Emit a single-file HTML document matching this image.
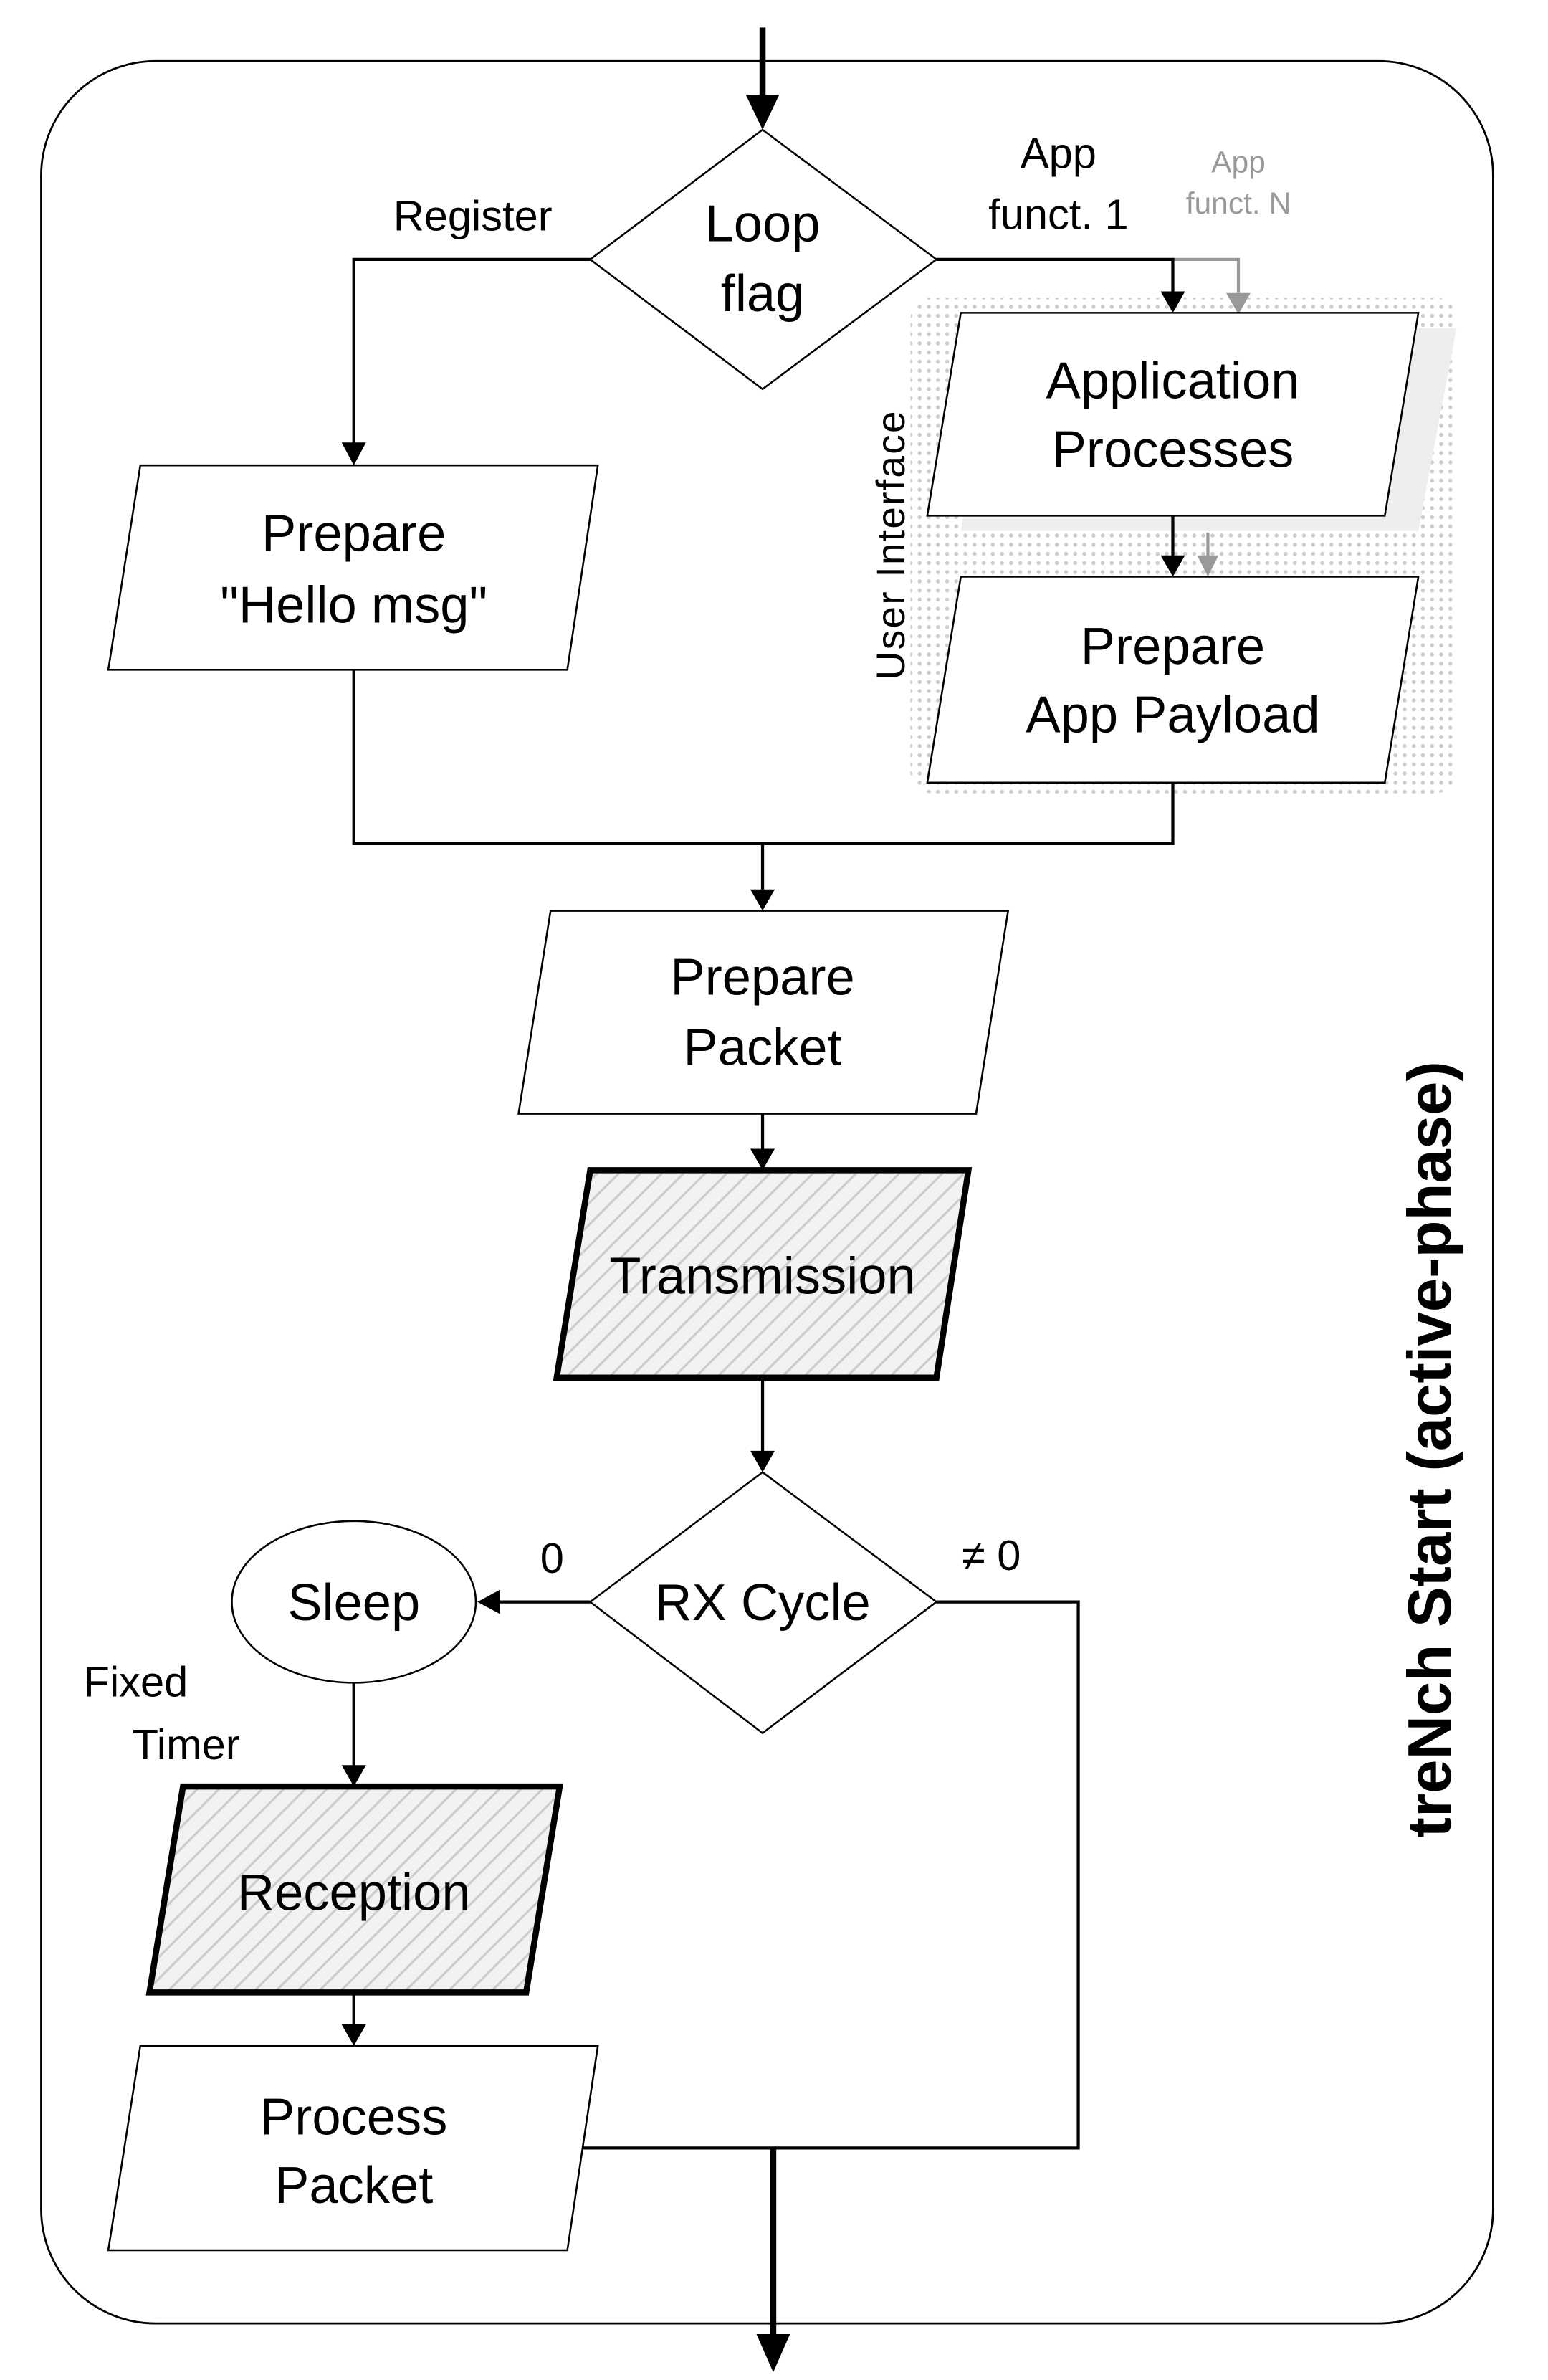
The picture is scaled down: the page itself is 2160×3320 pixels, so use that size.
<!DOCTYPE html>
<html><head><meta charset="utf-8"><style>html,body{margin:0;padding:0;background:#fff}svg{display:block}</style></head>
<body>
<svg width="2160" height="3320" viewBox="0 0 1015 1560" xmlns="http://www.w3.org/2000/svg" font-family="Liberation Sans, sans-serif">
<defs>
<pattern id="dots" width="6" height="6" patternUnits="userSpaceOnUse"><rect width="6" height="6" fill="#fff"/><circle cx="3" cy="3" r="1.3" fill="#ccc"/></pattern>
<pattern id="hatch" width="10" height="10" patternUnits="userSpaceOnUse" patternTransform="rotate(45)"><rect width="10" height="10" fill="#f2f2f2"/><line x1="0" y1="0" x2="0" y2="10" stroke="#ccc" stroke-width="3"/></pattern>
<marker id="ah" markerWidth="8" markerHeight="8" refX="7" refY="4" orient="auto" markerUnits="userSpaceOnUse" viewBox="0 0 8 8"><path d="M0,0 L8,4 L0,8z" fill="#000"/></marker>
</defs>
<g fill="none" stroke="#000">
<rect x="27" y="40" width="952" height="1483" rx="75" stroke-width="1.3"/>
<rect x="597" y="195" width="358" height="325" rx="14" fill="url(#dots)" stroke="none"/>
<polygon points="652,215 955,215 930,348 630,348" fill="#eee" stroke="none"/>
</g>
<g stroke="#000" stroke-width="2" fill="none">
<line x1="500" y1="18" x2="500" y2="70" stroke-width="4"/>
<polygon points="489,62 511,62 500,85" fill="#000" stroke="none"/>
<polyline points="387,170 232,170 232,292"/><polygon points="224,290 240,290 232,305" fill="#000" stroke="none"/>
<polyline points="769,170 812,170 812,192" stroke="#999"/><polygon points="804,192 820,192 812,206" fill="#999" stroke="none"/>
<polyline points="614,170 769,170 769,192"/><polygon points="761,191 777,191 769,205" fill="#000" stroke="none"/>
<line x1="792" y1="349" x2="792" y2="366" stroke="#999"/><polygon points="785,364 799,364 792,378" fill="#999" stroke="none"/>
<line x1="769" y1="338" x2="769" y2="365"/><polygon points="761,364 777,364 769,378" fill="#000" stroke="none"/>
<polyline points="232,439 232,553 769,553 769,513"/>
<line x1="500" y1="553" x2="500" y2="584"/><polygon points="492,583 508,583 500,597" fill="#000" stroke="none"/>
<line x1="500" y1="730" x2="500" y2="754"/><polygon points="492,753 508,753 500,767" fill="#000" stroke="none"/>
<line x1="500" y1="903" x2="500" y2="952"/><polygon points="492,951 508,951 500,965" fill="#000" stroke="none"/>
<line x1="387" y1="1050" x2="326" y2="1050"/><polygon points="328,1042 328,1058 313,1050" fill="#000" stroke="none"/>
<polyline points="614,1050 707,1050 707,1408 378,1408"/>
<line x1="232" y1="1103" x2="232" y2="1158"/><polygon points="224,1157 240,1157 232,1171" fill="#000" stroke="none"/>
<line x1="232" y1="1306" x2="232" y2="1328"/><polygon points="224,1327 240,1327 232,1341" fill="#000" stroke="none"/>
<line x1="507" y1="1408" x2="507" y2="1535" stroke-width="4"/><polygon points="496,1530 518,1530 507,1555" fill="#000" stroke="none"/>
</g>
<g stroke="#000" stroke-width="1.2" fill="#fff">
<polygon points="500,85 614,170 500,255 387,170"/>
<polygon points="92,305 392,305 372,439 71,439"/>
<polygon points="630,205 930,205 908,338 608,338"/>
<polygon points="630,378 930,378 908,513 608,513"/>
<polygon points="361,597 661,597 640,730 340,730"/>
<polygon points="500,965 614,1050 500,1136 387,1050"/>
<ellipse cx="232" cy="1050" rx="80" ry="53"/>
<polygon points="92,1341 392,1341 372,1475 71,1475"/>
</g>
<g stroke="#000" stroke-width="4" fill="url(#hatch)">
<polygon points="387,767 635,767 614,903 365,903"/>
<polygon points="120,1171 367,1171 345,1306 98,1306"/>
</g>
<g font-size="34" text-anchor="middle" fill="#000">
<text x="500" y="158">Loop</text><text x="500" y="204">flag</text>
<text x="232" y="361">Prepare</text><text x="232" y="408">"Hello msg"</text>
<text x="769" y="261">Application</text><text x="769" y="306">Processes</text>
<text x="769" y="435">Prepare</text><text x="769" y="480">App Payload</text>
<text x="500" y="652">Prepare</text><text x="500" y="698">Packet</text>
<text x="500" y="848">Transmission</text>
<text x="500" y="1062">RX Cycle</text>
<text x="232" y="1062">Sleep</text>
<text x="232" y="1252">Reception</text>
<text x="232" y="1399">Process</text><text x="232" y="1444">Packet</text>
</g>
<g font-size="28" text-anchor="middle" fill="#000">
<text x="310" y="151">Register</text>
<text x="694" y="110">App</text><text x="694" y="150">funct. 1</text>
<text x="362" y="1031">0</text><text x="650" y="1029">≠ 0</text>
<text x="89" y="1112">Fixed</text><text x="122" y="1153">Timer</text>
</g>
<g font-size="20" text-anchor="middle" fill="#999">
<text x="812" y="113">App</text><text x="812" y="140">funct. N</text>
</g>
<text x="593" y="357" font-size="26" text-anchor="middle" transform="rotate(-90 593 357)" letter-spacing="1">User Interface</text>
<text x="951" y="950" font-size="40" font-weight="bold" text-anchor="middle" transform="rotate(-90 951 950)">treNch Start (active-phase)</text>
</svg>
</body></html>
